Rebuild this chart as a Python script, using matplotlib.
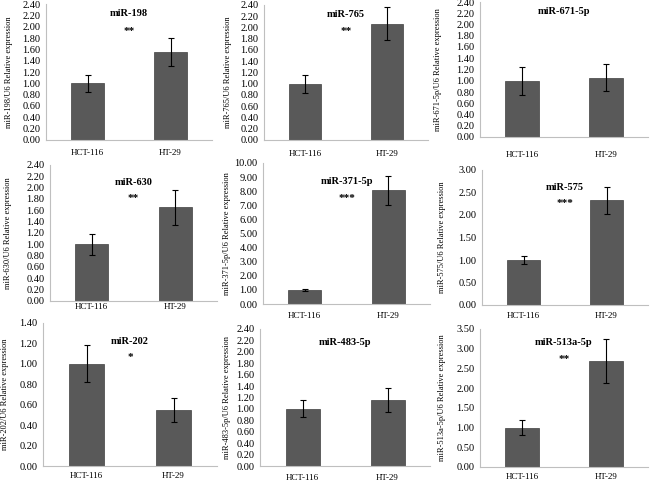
import matplotlib
matplotlib.use("Agg")
import matplotlib.pyplot as plt

plt.rcParams['font.family'] = ['Liberation Serif', 'DejaVu Serif']

cells = ["HCT-116", "HT-29"]

names = ["miR-198", "miR-765", "miR-671-5p",
         "miR-630", "miR-371-5p", "miR-575",
         "miR-202", "miR-483-5p", "miR-513a-5p"]
means = [[1.00, 1.55], [1.00, 2.07], [1.00, 1.05],
         [1.00, 1.65], [1.00, 8.05], [1.00, 2.33],
         [1.00, 0.55], [1.00, 1.15], [1.00, 2.68]]
errors = [[0.15, 0.25], [0.16, 0.30], [0.25, 0.24],
          [0.18, 0.31], [0.07, 1.05], [0.09, 0.30],
          [0.18, 0.12], [0.15, 0.21], [0.19, 0.56]]
stars = ["**", "**", "", "**", "***", "***", "*", "", "**"]
ymax = [2.4, 2.4, 2.4, 2.4, 10.0, 3.0, 1.4, 2.4, 3.5]
ystep = [0.2, 0.2, 0.2, 0.2, 1.0, 0.5, 0.2, 0.2, 0.5]

# panel boxes in pixels: left, right, top, bottom, y label x, x label pad
W, H = 650, 484
boxes = [(46, 212, 4, 140, 9, 6.5), (264, 428, 5, 140, 228, 7), (480, 648, 2, 137, 438, 10),
         (50, 217, 165, 301, 8, 1.5), (263, 430, 163, 304, 227, 6), (482, 648, 170, 305, 442, 5),
         (43, 217, 323, 466, 5, 4.5), (260, 430, 329, 466, 227, 5.5), (480, 648, 329, 467, 442, 4)]
title_y = [0.93, 0.93, 0.93, 0.87, 0.87, 0.87, 0.87, 0.90, 0.90]
star_y = [0.80, 0.80, 0.80, 0.75, 0.75, 0.75, 0.76, 0.78, 0.78]

fig = plt.figure(figsize=(W / 100, H / 100), dpi=100)

for i in range(9):
    l, r, t, b, lx, xpad = boxes[i]
    ax = fig.add_axes([l / W, 1 - b / H, (r - l) / W, (b - t) / H])
    ax.bar(cells, means[i], width=0.4, color="#595959", edgecolor="#404040", linewidth=0.5,
           yerr=errors[i], capsize=2, error_kw=dict(elinewidth=0.8, capthick=0.8, ecolor="black"))
    ax.set_ylim(0, ymax[i])
    n = int(round(ymax[i] / ystep[i]))
    ticks = [k * ystep[i] for k in range(n + 1)]
    ax.set_yticks(ticks)
    ax.set_yticklabels(["%.2f" % v for v in ticks], fontsize=7.5)
    ax.set_xlim(-0.5, 1.5)
    ax.tick_params(axis='x', length=0, labelsize=6.5, pad=xpad)
    ax.tick_params(axis='y', length=0, pad=4)
    for s in ["top", "right"]:
        ax.spines[s].set_visible(False)
    for s in ["left", "bottom"]:
        ax.spines[s].set_color("#bfbfbf")
        ax.spines[s].set_linewidth(0.8)
    ax.text(0.5, title_y[i], names[i], transform=ax.transAxes, ha="center", va="center",
            fontsize=7.5, fontweight="bold")
    if stars[i]:
        ax.text(0.5, star_y[i], stars[i], transform=ax.transAxes, ha="center", va="center",
                fontsize=8, fontweight="bold")
    fig.text(lx / W, 1 - (t + b) / 2 / H, names[i] + "/U6 Relative expression",
             rotation=90, ha="center", va="center", fontsize=6)

fig.savefig("out.png", dpi=100)
